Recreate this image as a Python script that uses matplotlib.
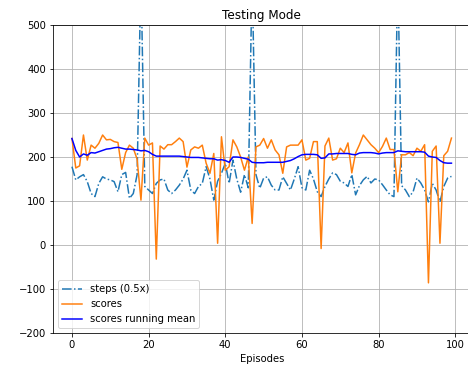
import matplotlib
matplotlib.use("Agg")
import matplotlib.pyplot as plt

episodes = list(range(100))

steps_half = [178, 148, 155, 160, 144, 117, 110, 140, 155, 150,
              148, 144, 121, 160, 165, 106, 117, 160, 620, 133,
              125, 117, 140, 148, 150, 125, 117, 125, 136, 150,
              170, 125, 117, 133, 140, 178, 150, 102, 145, 163,
              186, 140, 193, 150, 120, 160, 130, 610, 160, 129,
              152, 155, 136, 125, 125, 155, 140, 125, 150, 178,
              130, 125, 170, 150, 121, 110, 133, 150, 164, 160,
              145, 141, 133, 160, 114, 135, 148, 156, 141, 150,
              148, 137, 125, 114, 110, 620, 135, 125, 110, 121,
              152, 141, 125, 98, 140, 125, 98, 133, 152, 156]

scores = [242, 175, 180, 250, 193, 227, 220, 231, 250, 239,
          240, 235, 233, 172, 210, 227, 220, 195, 102, 243,
          227, 232, -32, 225, 218, 228, 228, 235, 243, 235,
          177, 216, 223, 220, 227, 186, 163, 208, 4, 246,
          170, 178, 239, 223, 200, 170, 200, 49, 223, 227,
          242, 220, 239, 216, 205, 163, 223, 227, 227, 227,
          239, 193, 197, 235, 235, -8, 225, 243, 193, 196,
          220, 210, 232, 164, 209, 228, 250, 239, 228, 220,
          210, 224, 243, 217, 217, 121, 205, 205, 210, 203,
          220, 213, 228, -86, 213, 225, 4, 203, 213, 243]

running_mean = [242, 215, 200, 207, 204, 210, 209, 212, 215, 218,
                219, 221, 222, 220, 218, 218, 217, 216, 214, 215,
                212, 206, 202, 202, 202, 202, 202, 202, 202, 201,
                200, 199, 199, 199, 198, 197, 196, 196, 193, 194,
                192, 188, 200, 200, 199, 197, 195, 188, 187, 187,
                187, 188, 188, 188, 188, 188, 190, 192, 196, 201,
                205, 206, 206, 206, 205, 197, 198, 207, 207, 208,
                208, 208, 208, 206, 205, 209, 210, 210, 210, 209,
                207, 209, 210, 210, 210, 214, 213, 212, 212, 212,
                212, 212, 211, 202, 200, 199, 192, 187, 186, 186]

fig = plt.figure(figsize=(468 / 72, 371 / 72), dpi=72)
# right edge of the axes sits just past the picture, as in the reference
ax = fig.add_axes([0.1132, 0.1024, 0.892, 0.8302])

ax.plot(episodes, steps_half, '-.', color='tab:blue', label='steps (0.5x)')
ax.plot(episodes, scores, color='tab:orange', label='scores')
ax.plot(episodes, running_mean, color='b', label='scores running mean')

ax.set_xlim(-4.95, 103.95)
ax.set_ylim(-200, 500)
ax.set_xlabel('Episodes')
ax.set_title('Testing Mode')
ax.grid(True)
ax.legend(loc='lower left')

fig.savefig('out.png', dpi=72)
